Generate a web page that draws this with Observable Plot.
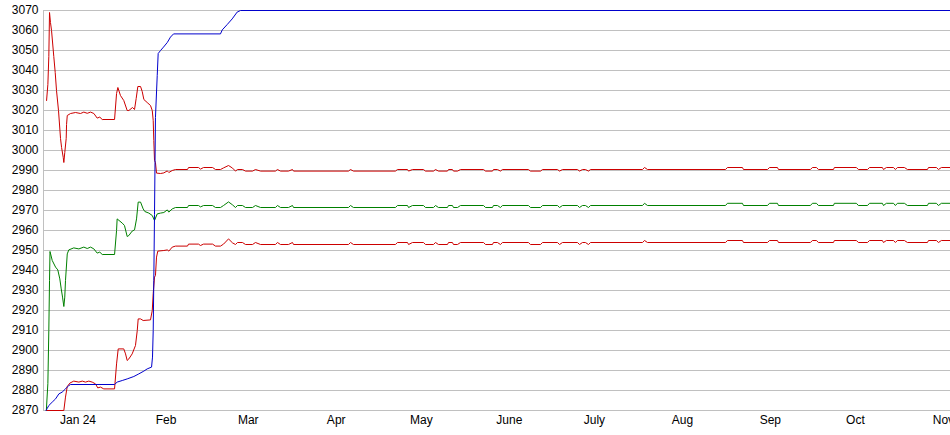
<!DOCTYPE html>
<html>
<head>
<meta charset="utf-8">
<script src="https://cdn.jsdelivr.net/npm/d3@7"></script>
<script src="https://cdn.jsdelivr.net/npm/@observablehq/plot@0.6"></script>
<style>
  html, body { margin: 0; padding: 0; background: #fff; }
  #chart { width: 950px; height: 435px; overflow: hidden; }
</style>
</head>
<body>
<div id="chart"></div>
<script>
// ---- data ----
const xDomain = ["2023-12-19 20", "2024-11-03 12"];
const yTicks = [2870, 2880, 2890, 2900, 2910, 2920, 2930, 2940, 2950, 2960, 2970,
                2980, 2990, 3000, 3010, 3020, 3030, 3040, 3050, 3060, 3070];
const xTicks = ["2024-01-01 00", "2024-02-01 00", "2024-03-01 00", "2024-04-01 00", "2024-05-01 00",
                "2024-06-01 00", "2024-07-01 00", "2024-08-01 00", "2024-09-01 00", "2024-10-01 00", "2024-11-01 00"];
const xLabels = ["Jan 24", "Feb", "Mar", "Apr", "May", "June", "July", "Aug", "Sep", "Oct", "Nov"];

const blueSeries = [
  ["2023-12-20 18", 2870], ["2023-12-21 03", 2871], ["2023-12-21 17", 2872.5], ["2023-12-22 22", 2874.2],
  ["2023-12-24 02", 2875.8], ["2023-12-25 06", 2878.3], ["2023-12-26 10", 2879.2], ["2023-12-27 14", 2880.8],
  ["2023-12-28 18", 2882.5], ["2023-12-29 09", 2883], ["2024-01-13 21", 2883], ["2024-01-14 19", 2884.2],
  ["2024-01-16 14", 2885], ["2024-01-18 08", 2885.8], ["2024-01-20 16", 2887], ["2024-01-22 10", 2888.3],
  ["2024-01-24 05", 2889.7], ["2024-01-25 09", 2890.8], ["2024-01-26 22", 2891.7], ["2024-01-27 06", 2896.7],
  ["2024-01-27 12", 2910], ["2024-01-27 17", 2935], ["2024-01-27 23", 2968], ["2024-01-28 07", 3016.5],
  ["2024-01-28 22", 3037.5], ["2024-01-29 06", 3048.5], ["2024-01-30 02", 3050], ["2024-01-31 03", 3051.7],
  ["2024-02-01 11", 3054], ["2024-02-02 14", 3056.7], ["2024-02-03 16", 3058.3], ["2024-02-20 05", 3058.3],
  ["2024-02-20 20", 3060.3], ["2024-02-22 14", 3063], ["2024-02-24 08", 3065.8], ["2024-02-26 02", 3069.2],
  ["2024-02-27 06", 3070], ["2024-11-03 12", 3070]
];

const upperHead = [
  ["2023-12-20 22", 3025], ["2023-12-21 09", 3033], ["2023-12-21 17", 3047], ["2023-12-21 23", 3069],
  ["2023-12-22 07", 3064], ["2023-12-22 16", 3060], ["2023-12-23 11", 3047], ["2023-12-23 23", 3039],
  ["2023-12-24 10", 3030], ["2023-12-25 03", 3020], ["2023-12-25 20", 3006], ["2023-12-26 05", 3001.5],
  ["2023-12-26 19", 2996.5], ["2023-12-27 00", 2994], ["2023-12-27 08", 2999], ["2023-12-27 20", 3006],
  ["2023-12-27 23", 3013], ["2023-12-28 05", 3017.5], ["2023-12-29 09", 3018.5], ["2023-12-31 03", 3019],
  ["2024-01-01 21", 3018.5], ["2024-01-03 01", 3019.2], ["2024-01-04 06", 3018.6], ["2024-01-05 10", 3019.2],
  ["2024-01-06 14", 3018.5], ["2024-01-07 18", 3016.2], ["2024-01-08 16", 3016.7], ["2024-01-09 13", 3015.5],
  ["2024-01-13 21", 3015.5], ["2024-01-14 14", 3028.5], ["2024-01-15 01", 3031.5], ["2024-01-15 23", 3027.5],
  ["2024-01-17 03", 3025], ["2024-01-18 08", 3020], ["2024-01-18 22", 3020], ["2024-01-20 05", 3021.5],
  ["2024-01-20 22", 3020.5], ["2024-01-21 12", 3026], ["2024-01-22 02", 3032], ["2024-01-23 01", 3032],
  ["2024-01-23 15", 3029.5], ["2024-01-24 05", 3025.5], ["2024-01-25 09", 3024], ["2024-01-26 13", 3022.5],
  ["2024-01-27 04", 3020], ["2024-01-27 12", 3015], ["2024-01-27 17", 3005], ["2024-01-27 23", 2995],
  ["2024-01-28 07", 2994], ["2024-01-28 16", 2988.7], ["2024-01-30 02", 2988.5], ["2024-01-31 06", 2988.8],
  ["2024-02-01 11", 2989.8], ["2024-02-02 00", 2989], ["2024-02-03 05", 2990], ["2024-02-04 09", 2990.5],
  ["2024-02-08 14", 2990.5], ["2024-02-08 23", 2991.5], ["2024-02-12 11", 2991.5], ["2024-02-13 04", 2990.7],
  ["2024-02-14 06", 2991.5], ["2024-02-17 10", 2991.5], ["2024-02-18 11", 2990.5], ["2024-02-20 05", 2990.5],
  ["2024-02-21 07", 2991.3], ["2024-02-23 01", 2992.5], ["2024-02-24 11", 2991.2]
];

const greenHead = [
  ["2023-12-20 20", 2870], ["2023-12-21 09", 2883.5], ["2023-12-21 17", 2910], ["2023-12-21 23", 2935],
  ["2023-12-22 03", 2949.5], ["2023-12-22 22", 2945], ["2023-12-24 02", 2941.7], ["2023-12-24 21", 2940.3],
  ["2023-12-25 14", 2935.8], ["2023-12-26 02", 2930.8], ["2023-12-26 13", 2926.7], ["2023-12-27 00", 2922],
  ["2023-12-27 08", 2926.7], ["2023-12-27 14", 2935], ["2023-12-28 05", 2948.3], ["2023-12-28 18", 2950.3],
  ["2023-12-30 12", 2951.3], ["2024-01-01 07", 2950.8], ["2024-01-03 01", 2951.7], ["2024-01-04 06", 2951],
  ["2024-01-05 10", 2951.7], ["2024-01-06 14", 2950.8], ["2024-01-07 18", 2948.7], ["2024-01-08 16", 2949.2],
  ["2024-01-09 13", 2948], ["2024-01-13 21", 2948], ["2024-01-14 14", 2960], ["2024-01-14 19", 2965.8],
  ["2024-01-16 14", 2963.7], ["2024-01-17 09", 2962.5], ["2024-01-18 08", 2957], ["2024-01-18 22", 2957.5],
  ["2024-01-20 02", 2959.7], ["2024-01-20 22", 2960.3], ["2024-01-21 15", 2965.8], ["2024-01-22 05", 2974.2],
  ["2024-01-23 01", 2974.2], ["2024-01-23 23", 2970.8], ["2024-01-24 13", 2969.5], ["2024-01-25 23", 2968.7],
  ["2024-01-27 04", 2967.5], ["2024-01-27 23", 2965], ["2024-01-28 22", 2968.3], ["2024-01-30 02", 2968.7],
  ["2024-01-31 06", 2969], ["2024-02-01 11", 2970.3], ["2024-02-02 00", 2969.2], ["2024-02-03 05", 2970.8],
  ["2024-02-04 09", 2971.5], ["2024-02-08 14", 2971.5], ["2024-02-08 23", 2972.5], ["2024-02-12 11", 2972.5],
  ["2024-02-13 04", 2971.8], ["2024-02-14 06", 2972.5], ["2024-02-17 10", 2972.5], ["2024-02-18 11", 2971.5],
  ["2024-02-20 05", 2971.5], ["2024-02-21 07", 2972.5], ["2024-02-23 01", 2974.3], ["2024-02-24 11", 2972.8]
];

const lowerHead = [
  ["2023-12-20 22", 2870], ["2023-12-27 00", 2870], ["2023-12-27 14", 2876.7], ["2023-12-28 05", 2882],
  ["2023-12-29 03", 2883.7], ["2023-12-30 12", 2884.7], ["2024-01-01 07", 2884.2], ["2024-01-02 12", 2884.7],
  ["2024-01-03 15", 2884.2], ["2024-01-04 19", 2884.7], ["2024-01-06 00", 2884.2], ["2024-01-07 04", 2883.3],
  ["2024-01-07 23", 2881.3], ["2024-01-08 22", 2881.7], ["2024-01-10 02", 2880.8], ["2024-01-13 21", 2880.8],
  ["2024-01-14 14", 2893.3], ["2024-01-15 04", 2900.8], ["2024-01-17 03", 2900.8], ["2024-01-17 18", 2898.3],
  ["2024-01-18 08", 2895], ["2024-01-18 22", 2895.8], ["2024-01-20 02", 2898.3], ["2024-01-21 06", 2902.5],
  ["2024-01-21 21", 2910], ["2024-01-22 05", 2915.8], ["2024-01-23 01", 2915.8], ["2024-01-23 23", 2915],
  ["2024-01-26 13", 2915.3], ["2024-01-27 04", 2920], ["2024-01-27 12", 2928.5], ["2024-01-27 23", 2936.7],
  ["2024-01-28 07", 2937.5], ["2024-01-28 16", 2946.7], ["2024-01-29 03", 2949.7], ["2024-01-31 06", 2950],
  ["2024-02-01 11", 2950.3], ["2024-02-02 00", 2949.7], ["2024-02-03 05", 2951.7], ["2024-02-04 09", 2952.2],
  ["2024-02-08 14", 2952.2], ["2024-02-08 23", 2953.2], ["2024-02-12 11", 2953.2], ["2024-02-13 04", 2952.5],
  ["2024-02-14 06", 2953.2], ["2024-02-17 10", 2953.2], ["2024-02-18 11", 2952.2], ["2024-02-20 05", 2952.2],
  ["2024-02-21 07", 2953.2], ["2024-02-23 01", 2955.8], ["2024-02-24 11", 2953.8]
];

// shared timestamps for the long flat part of the three lower series
const tailDates = [
  "2024-02-25 12", "2024-02-26 05", "2024-02-27 23", "2024-02-29 01", "2024-03-02 12", "2024-03-03 13",
  "2024-03-05 08", "2024-03-10 14", "2024-03-11 07", "2024-03-12 09", "2024-03-15 04", "2024-03-16 14",
  "2024-03-16 23", "2024-04-05 08", "2024-04-06 01", "2024-04-07 02", "2024-04-21 21", "2024-04-22 14",
  "2024-04-26 03", "2024-04-26 12", "2024-04-27 21", "2024-05-01 18", "2024-05-02 11", "2024-05-05 07",
  "2024-05-06 00", "2024-05-07 01", "2024-05-10 05", "2024-05-10 14", "2024-05-11 23", "2024-05-12 08",
  "2024-05-13 18", "2024-05-14 19", "2024-05-22 22", "2024-05-23 15", "2024-05-26 02", "2024-05-26 10",
  "2024-05-27 20", "2024-05-28 21", "2024-05-29 14", "2024-06-07 18", "2024-06-08 11", "2024-06-12 00",
  "2024-06-12 17", "2024-06-18 00", "2024-06-18 17", "2024-06-19 18", "2024-06-25 01", "2024-06-25 18",
  "2024-06-26 19", "2024-06-27 20", "2024-06-28 22", "2024-06-29 15", "2024-07-17 23", "2024-07-18 16",
  "2024-07-19 17", "2024-08-16 05", "2024-08-16 21", "2024-08-22 04", "2024-08-22 13", "2024-08-31 00",
  "2024-08-31 17", "2024-09-03 12", "2024-09-03 21", "2024-09-15 03", "2024-09-15 20", "2024-09-17 06",
  "2024-09-17 23", "2024-09-23 06", "2024-09-23 14", "2024-10-01 08", "2024-10-02 01", "2024-10-05 06",
  "2024-10-05 23", "2024-10-10 12", "2024-10-10 21", "2024-10-11 22", "2024-10-14 10", "2024-10-15 02",
  "2024-10-15 19", "2024-10-18 06", "2024-10-19 08", "2024-10-26 09", "2024-10-26 18", "2024-10-29 13",
  "2024-10-30 06", "2024-10-31 07", "2024-11-03 12"
];
const upperTail = [
  2989.7, 2990.5, 2990.5, 2989.7, 2989.7, 2990.5, 2989.7, 2989.7, 2990.5, 2989.7,
  2989.7, 2990.5, 2989.7, 2989.7, 2990.5, 2989.7, 2989.7, 2990.5, 2990.5, 2989.7,
  2990.5, 2990.5, 2989.7, 2989.7, 2990.5, 2989.7, 2989.7, 2990.5, 2990.5, 2989.7,
  2989.7, 2990.5, 2990.5, 2989.7, 2989.7, 2990.5, 2990.5, 2989.7, 2990.5, 2990.5,
  2989.7, 2989.7, 2990.5, 2990.5, 2989.7, 2990.5, 2990.5, 2989.7, 2990.5, 2990.5,
  2989.7, 2990.5, 2990.5, 2991.5, 2990.5, 2990.5, 2991.5, 2991.5, 2990.5, 2990.5,
  2991.5, 2991.5, 2990.5, 2990.5, 2991.5, 2991.5, 2990.5, 2990.5, 2991.5, 2991.5,
  2990.5, 2990.5, 2991.5, 2991.5, 2990.5, 2991.5, 2991.5, 2990.5, 2991.5, 2991.5,
  2990.5, 2990.5, 2991.5, 2991.5, 2990.5, 2991.5, 2991.5
];
const greenTail = [
  2971.5, 2972.5, 2972.5, 2971.5, 2971.5, 2972.5, 2971.5, 2971.5, 2972.5, 2971.5,
  2971.5, 2972.5, 2971.5, 2971.5, 2972.5, 2971.5, 2971.5, 2972.5, 2972.5, 2971.5,
  2972.5, 2972.5, 2971.5, 2971.5, 2972.5, 2971.5, 2971.5, 2972.5, 2972.5, 2971.5,
  2971.5, 2972.5, 2972.5, 2971.5, 2971.5, 2972.5, 2972.5, 2971.5, 2972.5, 2972.5,
  2971.5, 2971.5, 2972.5, 2972.5, 2971.5, 2972.5, 2972.5, 2971.5, 2972.5, 2972.5,
  2971.5, 2972.5, 2972.5, 2973.6, 2972.5, 2972.5, 2973.6, 2973.6, 2972.5, 2972.5,
  2973.6, 2973.6, 2972.5, 2972.5, 2973.6, 2973.6, 2972.5, 2972.5, 2973.6, 2973.6,
  2972.5, 2972.5, 2973.6, 2973.6, 2972.5, 2973.6, 2973.6, 2972.5, 2973.6, 2973.6,
  2972.5, 2972.5, 2973.6, 2973.6, 2972.5, 2973.6, 2973.6
];
const lowerTail = [
  2953, 2954, 2954, 2953, 2953, 2954, 2953, 2953, 2954, 2953,
  2953, 2954, 2953, 2953, 2954, 2953, 2953, 2954, 2954, 2953,
  2954, 2954, 2953, 2953, 2954, 2953, 2953, 2954, 2954, 2953,
  2953, 2954, 2954, 2953, 2953, 2954, 2954, 2953, 2954, 2954,
  2953, 2953, 2954, 2954, 2953, 2954, 2954, 2953, 2954, 2954,
  2953, 2954, 2954, 2955, 2954, 2954, 2955, 2955, 2954, 2954,
  2955, 2955, 2954, 2954, 2955, 2955, 2954, 2954, 2955, 2955,
  2954, 2954, 2955, 2955, 2954, 2955, 2955, 2954, 2955, 2955,
  2954, 2954, 2955, 2955, 2954, 2955, 2955
];

// ---- build ----
const parse = d3.utcParse("%Y-%m-%d %H");
const toRows = (pairs) => pairs.map(([t, v]) => ({date: parse(t), value: v}));
const withTail = (head, tail) => toRows(head).concat(tailDates.map((t, i) => ({date: parse(t), value: tail[i]})));

const blueRows = toRows(blueSeries);
const upperRows = withTail(upperHead, upperTail);
const greenRows = withTail(greenHead, greenTail);
const lowerRows = withTail(lowerHead, lowerTail);

const tickDates = xTicks.map(parse);
const labelOf = new Map(tickDates.map((d, i) => [+d, xLabels[i]]));
const x0 = parse(xDomain[0]), x1 = parse(xDomain[1]);

const grid = "#c0c0c0";
const chart = Plot.plot({
  width: 950,
  height: 435,
  marginLeft: 43,
  marginRight: 0,
  marginTop: 10,
  marginBottom: 25,
  style: {fontFamily: "'Liberation Sans', Arial, sans-serif", fontSize: "12px", color: "#000", background: "#fff"},
  x: {type: "utc", domain: [x0, x1], label: null},
  y: {domain: [2870, 3070], label: null},
  marks: [
    Plot.ruleY(yTicks, {stroke: grid, strokeWidth: 1}),
    Plot.ruleX([x0], {stroke: grid, strokeWidth: 1}),
    Plot.axisY(yTicks, {tickSize: 0, tickPadding: 5, tickFormat: d => String(d), fontSize: 12, label: null}),
    Plot.axisX(tickDates, {tickSize: 0, tickPadding: 5, tickFormat: d => labelOf.get(+d), fontSize: 12, label: null}),
    Plot.line(upperRows, {x: "date", y: "value", stroke: "#cc0000", strokeWidth: 1}),
    Plot.line(greenRows, {x: "date", y: "value", stroke: "#008000", strokeWidth: 1}),
    Plot.line(lowerRows, {x: "date", y: "value", stroke: "#cc0000", strokeWidth: 1}),
    Plot.line(blueRows, {x: "date", y: "value", stroke: "#0000cc", strokeWidth: 1})
  ]
});
document.getElementById("chart").appendChild(chart);
</script>
</body>
</html>
